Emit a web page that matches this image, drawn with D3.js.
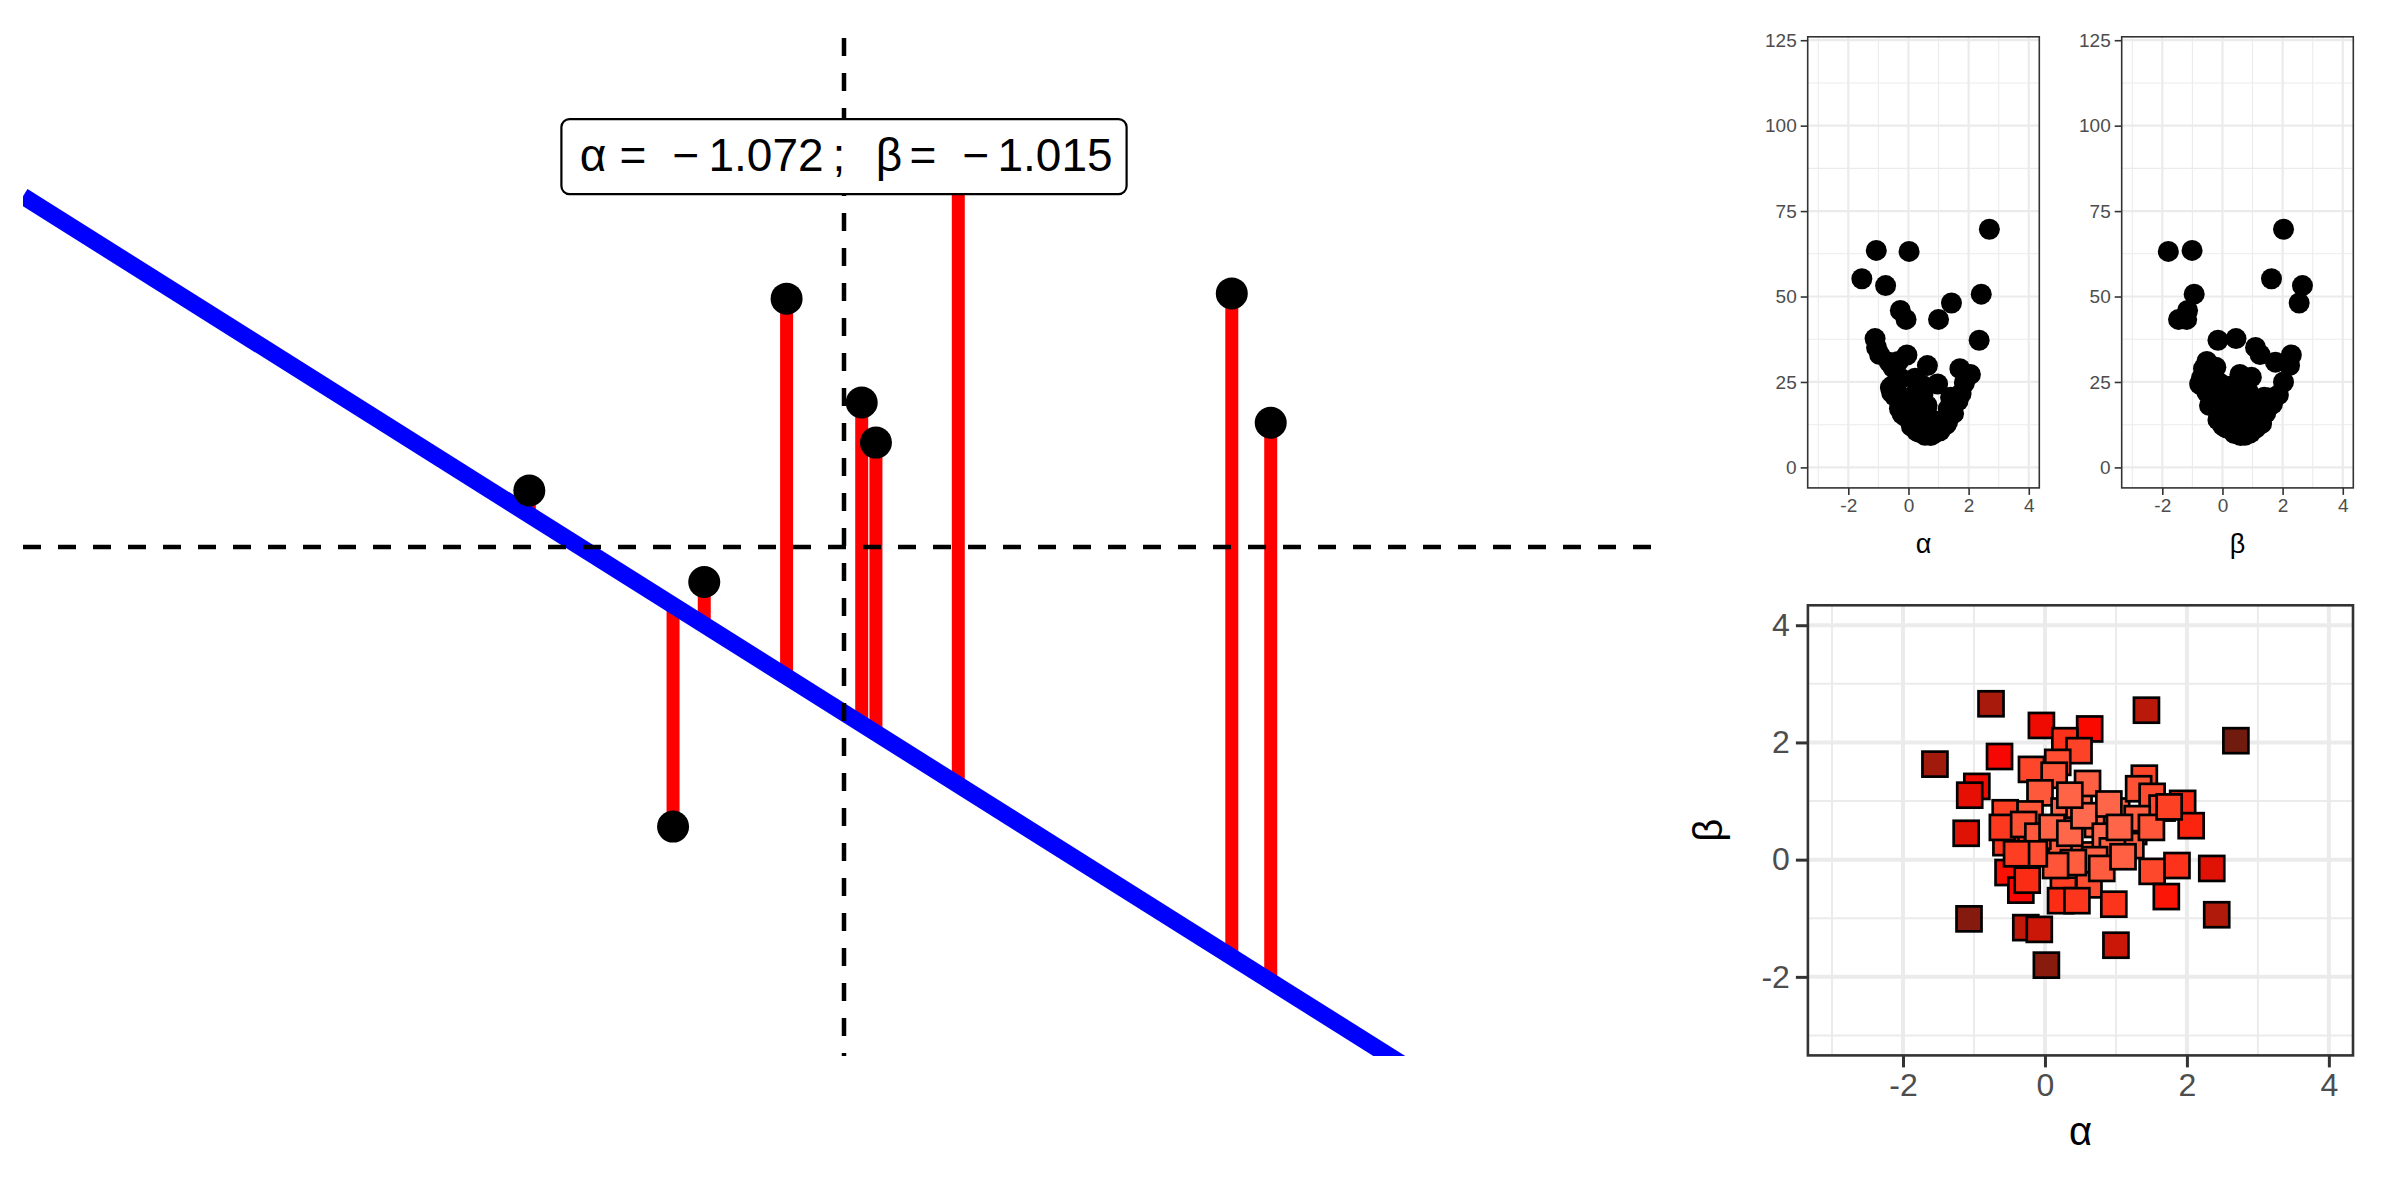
<!DOCTYPE html>
<html><head><meta charset="utf-8">
<script src="https://cdn.jsdelivr.net/npm/d3@7"></script>
<style>
body{margin:0;background:#fff}
svg{display:block}
text{font-family:"Liberation Sans",Arial,Helvetica,sans-serif}
</style>
</head><body>
<svg id="chart" width="2400" height="1200"></svg>
<script>
// ---------------- data ----------------
// observed points of the main panel
const obsX = [-1.261, -0.685, -0.560, -0.230, 0.071, 0.128, 0.458, 1.554, 1.710];
const obsY = [0.365, -1.807, -0.226, 1.605, 0.934, 0.675, 2.50, 1.639, 0.803];
// current candidate line
const fitAlpha = -1.072;
const fitBeta = -1.015;
// sampled parameter pairs and their loss
const simAlpha = [-0.76, 1.43, 2.69, -1.55, -0.05, 0.63, 0.28, 0.48, -0.64, 0.18,
  -0.19, 0.13, -0.96, -1.06, -0.07, -1.11, -0.56, -0.21, 0.27, 0.48,
  0.74, 1.01, 1.40, 1.32, 1.51, 1.94, 1.65, 2.06, 1.25, -0.46,
  -0.55, 0.02, 0.23, 0.55, 1.21, -0.52, -0.34, 0.26, 0.22, 0.62,
  0.97, 1.51, 1.86, 1.71, 2.35, 2.42, -1.07, -0.27, -0.08, 1.00,
  0.02, -0.60, -0.30, -0.10, 0.10, 0.35, 0.55, 0.85, 0.95, 0.70,
  0.40, 0.15, -0.15, 0.80, 1.10, 1.30, 1.50, 1.75, 0.60, 0.35,
  -0.25, 0.45, 0.90, 1.05, -0.40];
const simBeta = [2.66, 2.55, 2.03, 1.63, 2.29, 2.23, 2.03, 1.86, 1.76, 1.66,
  1.54, 1.44, 1.25, 1.10, 1.14, 0.45, 0.80, 0.78, 0.83, 0.93,
  0.60, 0.83, 1.39, 1.21, 1.08, 0.96, 0.88, 0.58, 0.48, 0.43,
  0.29, 0.25, 0.12, 0.08, 0.24, -0.22, -0.52, -0.52, -0.70, -0.43,
  -0.76, -0.20, -0.10, -0.63, -0.15, -0.94, -1.01, -1.16, -1.19, -1.46,
  -1.80, 0.55, 0.60, 0.40, 0.55, 0.45, 0.75, 0.40, 0.15, 0.00,
  -0.05, -0.10, 0.10, -0.15, 0.05, 0.70, 0.55, 0.90, 1.30, 1.10,
  -0.35, -0.70, 0.95, 0.55, 0.10];
const simLoss = [53.2, 48.1, 69.7, 55.2, 32.9, 29.8, 25.0, 21.2, 30.8, 18.5,
  20.3, 15.9, 33.0, 35.1, 15.0, 37.7, 21.9, 15.6, 10.6, 10.1,
  9.3, 11.0, 20.5, 17.1, 18.6, 26.4, 19.5, 27.2, 12.5, 20.9,
  23.8, 14.3, 13.2, 11.8, 12.8, 29.3, 31.0, 22.0, 26.1, 18.1,
  24.4, 19.8, 24.7, 28.9, 37.2, 50.7, 63.5, 45.9, 43.3, 43.3,
  63.2, 23.3, 17.2, 14.9, 12.0, 10.3, 9.4, 9.9, 11.5, 12.3,
  13.7, 16.4, 18.0, 13.9, 13.1, 13.3, 15.8, 21.6, 12.8, 11.4,
  26.0, 24.1, 10.9, 10.7, 22.4];
const lossTicks = [0, 25, 50, 75, 100, 125];
const lossMinor = [12.5, 37.5, 62.5, 87.5, 112.5];
const paramTicks = [-2, 0, 2, 4];
const paramMinor = [-3, -1, 1, 3];

// ---------------- drawing ----------------
const svg = d3.select("#chart");
const fmtTick = d => String(d);

// ===== main panel =====
const mx = d3.scaleLinear().domain([-3.29, 3.29]).range([23, 1665]);
const my = d3.scaleLinear().domain([-3.29, 3.29]).range([1056, 38]);
svg.append("defs").append("clipPath").attr("id", "mainclip")
  .append("rect").attr("x", 23).attr("y", 38).attr("width", 1642).attr("height", 1018);
const main = svg.append("g").attr("clip-path", "url(#mainclip)");
const obs = obsX.map((x, i) => ({x, y: obsY[i]}));

main.selectAll("line.res").data(obs).join("line").attr("class", "res")
  .attr("x1", d => mx(d.x)).attr("x2", d => mx(d.x))
  .attr("y1", d => my(d.y)).attr("y2", d => my(fitAlpha + fitBeta * d.x))
  .attr("stroke", "#FF0000").attr("stroke-width", 13);

main.append("line")
  .attr("x1", mx(-3.29)).attr("y1", my(fitAlpha + fitBeta * -3.29))
  .attr("x2", mx(3.29)).attr("y2", my(fitAlpha + fitBeta * 3.29))
  .attr("stroke", "#0000FF").attr("stroke-width", 17);

main.append("line").attr("x1", mx(-3.29)).attr("x2", mx(3.29)).attr("y1", my(0)).attr("y2", my(0))
  .attr("stroke", "#000").attr("stroke-width", 4.5).attr("stroke-dasharray", "18,17");
main.append("line").attr("x1", mx(0)).attr("x2", mx(0)).attr("y1", my(3.29)).attr("y2", my(-3.29))
  .attr("stroke", "#000").attr("stroke-width", 4.5).attr("stroke-dasharray", "18,17");

main.selectAll("circle.obs").data(obs).join("circle").attr("class", "obs")
  .attr("cx", d => mx(d.x)).attr("cy", d => my(d.y)).attr("r", 16).attr("fill", "#000");

// label
const fmt3 = d3.format(".3f");
const aStr = fmt3(Math.abs(fitAlpha)), bStr = fmt3(Math.abs(fitBeta));
const tokens = ["α", "=", fitAlpha < 0 ? "−" : "", aStr, ";", "β", "=", fitBeta < 0 ? "−" : "", bStr];
const tokOff = [-251, -211, -158, -78, -5, 45, 79, 132, 211];
const lab = svg.append("g").attr("transform", `translate(${mx(0)},156.6)`);
lab.append("rect").attr("x", -282.6).attr("y", -37.5).attr("width", 565.2).attr("height", 75)
  .attr("rx", 8).attr("fill", "#fff").attr("stroke", "#000").attr("stroke-width", 2.2);
const lt = lab.append("text").attr("font-size", 46).attr("fill", "#000").attr("text-anchor", "middle");
tokens.forEach((t, i) => lt.append("tspan").attr("x", tokOff[i]).attr("y", 14).text(t));

// ===== small panels helper =====
function panel(g, xs, ys, opt) {
  const [x0, x1] = xs.range(), [y0, y1] = ys.range();
  g.append("rect").attr("x", x0).attr("y", y1).attr("width", x1 - x0).attr("height", y0 - y1).attr("fill", "#fff");
  const grid = g.append("g");
  opt.xMinor.forEach(v => grid.append("line").attr("x1", xs(v)).attr("x2", xs(v)).attr("y1", y0).attr("y2", y1)
    .attr("stroke", "#EBEBEB").attr("stroke-width", opt.minorW));
  opt.yMinor.forEach(v => grid.append("line").attr("y1", ys(v)).attr("y2", ys(v)).attr("x1", x0).attr("x2", x1)
    .attr("stroke", "#EBEBEB").attr("stroke-width", opt.minorW));
  opt.xTicks.forEach(v => grid.append("line").attr("x1", xs(v)).attr("x2", xs(v)).attr("y1", y0).attr("y2", y1)
    .attr("stroke", "#EBEBEB").attr("stroke-width", opt.majorW));
  opt.yTicks.forEach(v => grid.append("line").attr("y1", ys(v)).attr("y2", ys(v)).attr("x1", x0).attr("x2", x1)
    .attr("stroke", "#EBEBEB").attr("stroke-width", opt.majorW));
  return () => {
    g.append("rect").attr("x", x0).attr("y", y1).attr("width", x1 - x0).attr("height", y0 - y1)
      .attr("fill", "none").attr("stroke", "#333333").attr("stroke-width", opt.borderW);
    const ax = g.append("g").attr("transform", `translate(0,${y0})`)
      .call(d3.axisBottom(xs).tickValues(opt.xTicks).tickFormat(fmtTick).tickSize(opt.tickLen).tickPadding(opt.tickPad));
    const ay = g.append("g").attr("transform", `translate(${x0},0)`)
      .call(d3.axisLeft(ys).tickValues(opt.yTicks).tickFormat(fmtTick).tickSize(opt.tickLen).tickPadding(opt.tickPad));
    [ax, ay].forEach(a => {
      a.select(".domain").remove();
      a.selectAll(".tick line").attr("stroke", "#333333").attr("stroke-width", opt.tickW);
      a.selectAll(".tick text").attr("fill", "#4D4D4D").attr("font-size", opt.tickFont)
        .attr("font-family", "Liberation Sans, Arial, sans-serif");
    });
    g.append("text").attr("x", (x0 + x1) / 2).attr("y", opt.xTitleY).attr("text-anchor", "middle")
      .attr("font-size", opt.titleFont).attr("fill", "#000").text(opt.xTitle);
    if (opt.yTitle) {
      g.append("text").attr("transform", `translate(${opt.yTitleX},${(y0 + y1) / 2}) rotate(-90)`)
        .attr("text-anchor", "middle").attr("font-size", opt.titleFont).attr("fill", "#000").text(opt.yTitle);
    }
  };
}

const sims = simAlpha.map((a, i) => ({a, b: simBeta[i], loss: simLoss[i]}));
const smallOpt = {xTicks: paramTicks, xMinor: paramMinor, yTicks: lossTicks, yMinor: lossMinor,
  majorW: 2.2, minorW: 1.1, borderW: 1.6, tickLen: 7, tickW: 1.6, tickPad: 4, tickFont: 19,
  titleFont: 27, xTitleY: 553};

const ly = d3.scaleLinear().domain([-6, 126]).range([487.9, 36.8]);

// alpha vs loss
const p1x = d3.scaleLinear().domain([-3.35, 4.35]).range([1807.7, 2039.3]);
const g1 = svg.append("g");
const fin1 = panel(g1, p1x, ly, {...smallOpt, xTitle: "α"});
g1.selectAll("circle").data(sims).join("circle")
  .attr("cx", d => p1x(d.a)).attr("cy", d => ly(d.loss)).attr("r", 10.5).attr("fill", "#000");
fin1();

// beta vs loss
const p2x = d3.scaleLinear().domain([-3.35, 4.35]).range([2121.7, 2353.3]);
const g2 = svg.append("g");
const fin2 = panel(g2, p2x, ly, {...smallOpt, xTitle: "β"});
g2.selectAll("circle").data(sims).join("circle")
  .attr("cx", d => p2x(d.b)).attr("cy", d => ly(d.loss)).attr("r", 10.5).attr("fill", "#000");
fin2();

// alpha vs beta, fill by loss
const bx = d3.scaleLinear().domain([-3.34, 4.34]).range([1807.9, 2353]);
const by = d3.scaleLinear().domain([-3.34, 4.34]).range([1055.4, 605.3]);
const color = d3.scaleLinear().domain([9, 30, 70]).range(["#FF6B4F", "#FA0500", "#701A0E"])
  .interpolate(d3.interpolateLab).clamp(true);
const g3 = svg.append("g");
const fin3 = panel(g3, bx, by, {xTicks: paramTicks, xMinor: paramMinor, yTicks: paramTicks, yMinor: paramMinor,
  majorW: 4, minorW: 2, borderW: 2.6, tickLen: 12, tickW: 3, tickPad: 6, tickFont: 32,
  titleFont: 40, xTitleY: 1145, xTitle: "α", yTitle: "β", yTitleX: 1722});
const sq = 25;
g3.selectAll("rect.sq").data(sims).join("rect").attr("class", "sq")
  .attr("x", d => bx(d.a) - sq / 2).attr("y", d => by(d.b) - sq / 2)
  .attr("width", sq).attr("height", sq)
  .attr("fill", d => color(d.loss)).attr("stroke", "#000").attr("stroke-width", 2.7);
fin3();
</script>
</body></html>
